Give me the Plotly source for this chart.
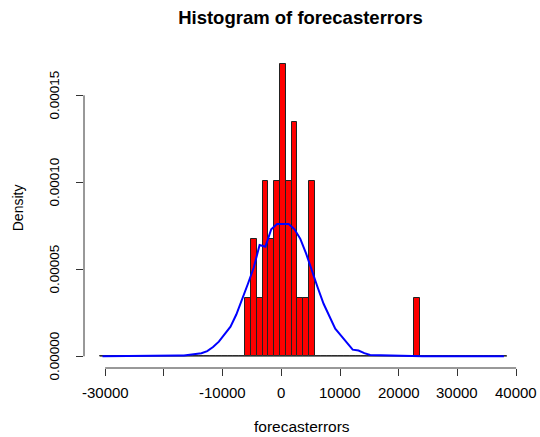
import plotly.graph_objects as go

# ---- data ----
break_start = -30950          # first histogram break
bin_width = 991               # histogram bin width
n_obs = 30                    # number of forecast errors

# counts per bin (70 bins)
bar_counts = [0]*25 + [1, 2, 1, 3, 2, 3, 5, 3, 4, 1, 1, 3] + [0]*17 + [1] + [0]*15

# blue normal-curve density at bin mids (x1e-6)
curve_density_e6 = [0, 0, 0, 0, 0, 0, 0, 0, 0, 0, 0, 0.2, 0.4, 0.4, 0.5, 0.8,
                    1.3, 1.8, 3.0, 5.3, 8.4, 13, 17, 24, 32.5, 41.7, 51, 64, 63, 73,
                    76, 76, 76, 73, 67.5, 59, 48.6, 39.4, 30.2, 22.8, 15.9, 11.9, 7.9,
                    3.8, 3.3, 1.8, 0.8, 0.7, 0.4, 0.3, 0.2, 0, 0, 0, 0, 0, 0, 0, 0,
                    0, 0, 0, 0, 0, 0, 0, 0, 0, 0, 0]

x_ticks = [-30000, -20000, -10000, 0, 10000, 20000, 30000, 40000]
x_ticktext = ["-30000", "", "-10000", "0", "10000", "20000", "30000", "40000"]
y_ticks = [0, 0.00005, 0.00010, 0.00015]
y_ticktext = ["0.00000", "0.00005", "0.00010", "0.00015"]

title_text = "Histogram of forecasterrors"
x_label = "forecasterrors"
y_label = "Density"

# ---- derived ----
n_bins = len(bar_counts)
breaks = [break_start + bin_width*k for k in range(n_bins + 1)]
mids = [b + bin_width/2 for b in breaks[:-1]]
bar_density = [c/(n_obs*bin_width) for c in bar_counts]
curve_density = [v*1e-6 for v in curve_density_e6]

FONT = "Liberation Sans, Arial, sans-serif"

fig = go.Figure()
# zero-height bins show as a baseline
fig.add_trace(go.Scatter(x=[breaks[0], breaks[-1]], y=[0, 0], mode="lines",
                         line=dict(color="#555555", width=1), hoverinfo="skip",
                         showlegend=False))
fig.add_trace(go.Bar(x=mids, y=bar_density, width=bin_width,
                     marker=dict(color="#FF0000", line=dict(color="#222222", width=1)),
                     showlegend=False))
fig.add_trace(go.Scatter(x=mids, y=curve_density, mode="lines",
                         line=dict(color="#0000FF", width=2), showlegend=False))

# R-style axis lines (only between first and last tick)
fig.add_shape(type="line", xref="x", yref="paper", x0=x_ticks[0], x1=x_ticks[-1],
              y0=0, y1=0, line=dict(color="#333333", width=1))
fig.add_shape(type="line", xref="paper", yref="y", x0=0, x1=0,
              y0=y_ticks[0], y1=y_ticks[-1], line=dict(color="#333333", width=1))

annotations = []
for v, t in zip(x_ticks, x_ticktext):
    if t:
        annotations.append(dict(text=t, xref="x", yref="paper", x=v,
                                y=(368.5-393)/316.5, xanchor="center", yanchor="middle",
                                showarrow=False,
                                font=dict(size=15, family=FONT, color="black")))
for v, t in zip(y_ticks, y_ticktext):
    annotations.append(dict(text=t, xref="paper", yref="y", x=(54.2-84)/439, y=v,
                            xanchor="center", yanchor="middle", showarrow=False,
                            textangle=-90,
                            font=dict(size=13.5, family=FONT, color="black")))
annotations += [
    dict(text=x_label, xref="paper", yref="paper", x=(302-84)/439,
         y=(368.5-427)/316.5, xanchor="center", yanchor="middle", showarrow=False,
         font=dict(size=15.5, family=FONT, color="black")),
    dict(text=y_label, xref="paper", yref="paper", x=(17.5-84)/439,
         y=(368.5-208)/316.5, xanchor="center", yanchor="middle", showarrow=False,
         textangle=-90, font=dict(size=14, family=FONT, color="black")),
]

fig.update_layout(
    width=540, height=437,
    margin=dict(l=84, r=17, t=52, b=68.5),
    paper_bgcolor="white", plot_bgcolor="white",
    bargap=0,
    font=dict(family=FONT, color="black"),
    title=dict(text="<b>" + title_text + "</b>", x=300.5/540, xref="container",
               xanchor="center", y=1 - 17.5/437, yref="container", yanchor="middle",
               font=dict(size=18.5, family=FONT, color="black")),
    xaxis=dict(range=[-33606, 41169], showgrid=False, zeroline=False, showline=False,
               tickmode="array", tickvals=x_ticks, showticklabels=False,
               ticks="outside", ticklen=7, tickcolor="#333333", tickwidth=1),
    yaxis=dict(range=[-0.00000673, 0.0001749], showgrid=False, zeroline=False,
               showline=False, tickmode="array", tickvals=y_ticks, showticklabels=False,
               ticks="outside", ticklen=7, tickcolor="#333333", tickwidth=1),
    annotations=annotations,
)

fig.write_html("out.html")
